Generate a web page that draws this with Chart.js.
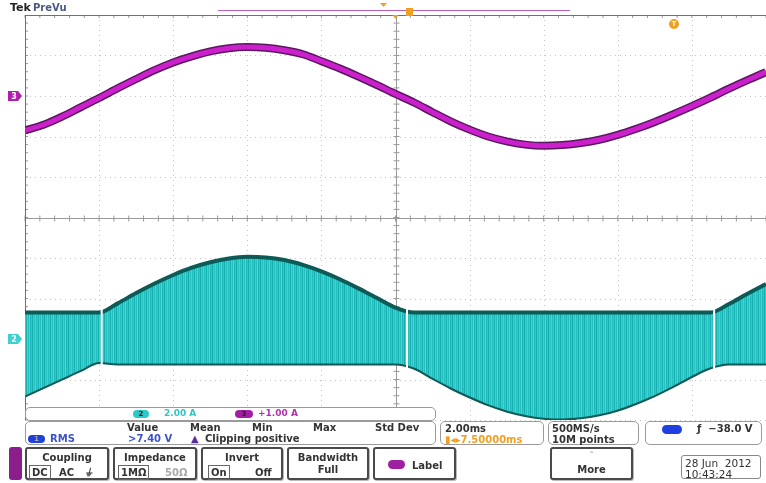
<!DOCTYPE html>
<html>
<head>
<meta charset="utf-8">
<script src="https://cdn.jsdelivr.net/npm/chart.js@4.4.0/dist/chart.umd.min.js"></script>
<style>
  body { margin: 0; background: #fff; }
  #wrap { position: relative; width: 766px; height: 483px; overflow: hidden; font-family: "DejaVu Sans", sans-serif; color: #333; }
  #scope { position: absolute; left: 0; top: 0; }
  .t { position: absolute; white-space: nowrap; font-size: 10px; font-weight: bold; line-height: 1; }
  .box { position: absolute; border: 1px solid #9a9a9a; border-radius: 5px; background: #fff; box-sizing: border-box; }
  .btn { position: absolute; top: 447px; height: 33px; border: 2px solid #4a4a4a; border-radius: 3px; background: #fff; box-sizing: border-box; box-shadow: 1px 1px 0 #bbb; }
  .btn .hd { position: absolute; left: 0; right: 0; top: 3px; text-align: center; font-size: 10px; font-weight: bold; }
  .btn .sub { position: absolute; top: 16px; font-size: 10px; font-weight: bold; }
  .sel { border: 1px solid #666; padding: 1px 2px; }
  .pill { position: absolute; border-radius: 5px; height: 8px; font-size: 7px; font-weight: bold; text-align: center; line-height: 8px; color: #222; }
</style>
</head>
<body>
<div id="wrap">
  <canvas id="scope" width="766" height="483"></canvas>

  <div class="t" style="left:10px;top:2px;font-size:11px;color:#222;">Tek</div>
  <div class="t" style="left:33px;top:3px;color:#4a5a86;">PreVu</div>

  <!-- vertical settings row -->
  <div class="box" style="left:25px;top:407px;width:411px;height:14px;"></div>
  <div class="pill" style="left:133px;top:410px;width:16px;background:#2cc9c9;">2</div>
  <div class="t" style="left:164px;top:409px;font-size:9px;color:#35c4c4;">2.00 A</div>
  <div class="pill" style="left:235px;top:410px;width:18px;background:#a21ea2;">3</div>
  <div class="t" style="left:258px;top:409px;font-size:9px;color:#b032b0;">+1.00 A</div>

  <!-- measurement box -->
  <div class="box" style="left:25px;top:421px;width:411px;height:24px;"></div>
  <div class="t" style="left:127px;top:423px;">Value</div>
  <div class="t" style="left:190px;top:423px;">Mean</div>
  <div class="t" style="left:252px;top:423px;">Min</div>
  <div class="t" style="left:313px;top:423px;">Max</div>
  <div class="t" style="left:375px;top:423px;">Std Dev</div>
  <div class="pill" style="left:28px;top:435px;width:17px;background:#2040d8;color:#9ab;">1</div>
  <div class="t" style="left:50px;top:434px;color:#3c52c8;">RMS</div>
  <div class="t" style="left:128px;top:434px;color:#3c52c8;">&gt;7.40 V</div>
  <div class="t" style="left:191px;top:434px;color:#5a2ca0;">▲</div>
  <div class="t" style="left:205px;top:434px;">Clipping positive</div>

  <!-- timebase / acquisition / trigger -->
  <div class="box" style="left:440px;top:421px;width:104px;height:24px;"></div>
  <div class="t" style="left:445px;top:424px;">2.00ms</div>
  <div class="t" style="left:445px;top:435px;color:#f0a020;">▮◂▸7.50000ms</div>
  <div class="box" style="left:548px;top:421px;width:91px;height:24px;"></div>
  <div class="t" style="left:552px;top:424px;">500MS/s</div>
  <div class="t" style="left:552px;top:435px;">10M points</div>
  <div class="box" style="left:645px;top:421px;width:117px;height:24px;"></div>
  <div class="pill" style="left:662px;top:425px;width:20px;height:9px;background:#1f3fe0;"></div>
  <div class="t" style="left:697px;top:424px;">ƒ&nbsp;&nbsp;−38.0 V</div>

  <!-- bottom button row -->
  <div style="position:absolute;left:9px;top:447px;width:13px;height:33px;background:#8b1e8b;border-radius:3px;"></div>
  <div class="btn" style="left:25px;width:84px;">
    <div class="hd">Coupling</div>
    <div class="sub sel" style="left:2px;">DC</div>
    <div class="sub" style="left:32px;top:18px;">AC</div>
    <div class="sub" style="left:58px;top:18px;font-style:italic;">⏚</div>
  </div>
  <div class="btn" style="left:113px;width:84px;">
    <div class="hd">Impedance</div>
    <div class="sub sel" style="left:3px;">1MΩ</div>
    <div class="sub" style="left:50px;top:18px;color:#aaa;">50Ω</div>
  </div>
  <div class="btn" style="left:201px;width:82px;">
    <div class="hd">Invert</div>
    <div class="sub sel" style="left:5px;">On</div>
    <div class="sub" style="left:52px;top:18px;">Off</div>
  </div>
  <div class="btn" style="left:287px;width:82px;">
    <div class="hd">Bandwidth</div>
    <div class="hd" style="top:15px;">Full</div>
  </div>
  <div class="btn" style="left:373px;width:83px;">
    <div class="pill" style="left:13px;top:11px;width:17px;height:9px;background:#a01ea0;"></div>
    <div class="sub" style="left:37px;top:11px;">Label</div>
  </div>
  <div class="btn" style="left:550px;width:83px;">
    <div class="hd" style="top:1px;color:#bbb;font-size:8px;">⌃</div>
    <div class="hd" style="top:15px;">More</div>
  </div>
  <div style="position:absolute;left:681px;top:455px;width:80px;height:24px;border:1px solid #888;border-radius:3px;box-sizing:border-box;"></div>
  <div class="t" style="left:685px;top:458px;font-size:10.5px;font-weight:normal;">28 Jun&nbsp;&nbsp;2012</div>
  <div class="t" style="left:685px;top:469px;font-size:10.5px;font-weight:normal;">10:43:24</div>
</div>

<script>
// eje horizontal en ms (2 ms/div) y divisiones verticales
const xDivs = [0, 2, 4, 6, 8, 10, 12, 14, 16, 18, 20];
const yDivs = [-5, -4, -3, -2, -1, 0, 1, 2, 3, 4, 5];

const timeMs = [0, 0.5, 1, 1.5, 2, 2.5, 3, 3.5, 4, 4.5, 5, 5.5, 6, 6.5, 7, 7.5, 8, 8.5, 9, 9.5,
  10, 10.5, 11, 11.5, 12, 12.5, 13, 13.5, 14, 14.5, 15, 15.5, 16, 16.5, 17, 17.5, 18, 18.5, 19, 19.5, 20];

// canal 3 (magenta), amperios, 1 A/div
const ch3Amps = [-0.85, -0.71, -0.51, -0.28, -0.05, 0.19, 0.42, 0.64, 0.83, 0.98,
  1.10, 1.18, 1.21, 1.19, 1.13, 1.03, 0.86, 0.68, 0.48, 0.27,
  0.05, -0.16, -0.40, -0.63, -0.83, -1.00, -1.12, -1.20, -1.23, -1.21,
  -1.16, -1.08, -0.96, -0.81, -0.64, -0.45, -0.25, -0.04, 0.18, 0.39, 0.59];

// canal 2 (cian), envolvente superior e inferior, amperios, 2 A/div
const ch2Upper = [1.31, 1.31, 1.31, 1.31, 1.31, 1.76, 2.27, 2.74, 3.16, 3.52,
  3.79, 3.98, 4.06, 4.03, 3.90, 3.66, 3.34, 2.95, 2.50, 2.02,
  1.55, 1.31, 1.31, 1.31, 1.31, 1.31, 1.31, 1.31, 1.31, 1.31,
  1.31, 1.31, 1.31, 1.31, 1.31, 1.31, 1.31, 1.31, 1.73, 2.24, 2.71];
const ch2Lower = [-2.79, -2.37, -1.95, -1.53, -1.13, -1.21, -1.21, -1.21, -1.21, -1.21,
  -1.21, -1.21, -1.21, -1.21, -1.21, -1.21, -1.21, -1.21, -1.21, -1.21,
  -1.21, -1.41, -1.91, -2.40, -2.83, -3.22, -3.53, -3.75, -3.89, -3.93,
  -3.87, -3.72, -3.48, -3.15, -2.76, -2.31, -1.82, -1.40, -1.21, -1.21, -1.21];

// cortes blancos en la senal cian (ms)
const gapTimes = [2.07, 10.31, 18.6];

function points(ys) {
  return timeMs.map((t, i) => ({x: t, y: ys[i]}));
}

// relleno a rayas verticales como la persistencia del osciloscopio
function stripes() {
  const c = document.createElement('canvas');
  c.width = 12;
  c.height = 4;
  const g = c.getContext('2d');
  const cols = ['#22c2c2', '#31caca', '#1ab2b2', '#3bd2d1', '#25bfbf', '#4ad7d6',
    '#1eb8b8', '#2fc8c8', '#18aeae', '#36cecd', '#28c3c3', '#42d3d2'];
  cols.forEach((col, i) => {
    g.fillStyle = col;
    g.fillRect(i, 0, 1, 4);
  });
  return g.createPattern(c, 'repeat');
}

function seg(ctx, x1, y1, x2, y2) {
  ctx.beginPath();
  ctx.moveTo(x1, y1);
  ctx.lineTo(x2, y2);
  ctx.stroke();
}

// reticula tipo Tek
const graticule = {
  id: 'graticule',
  beforeDatasetsDraw(chart) {
    const {ctx, chartArea: a, scales: {x, yDiv}} = chart;
    ctx.save();
    ctx.lineWidth = 1;
    ctx.strokeStyle = '#c4c4c4';
    ctx.setLineDash([1, 4]);
    xDivs.forEach((t) => {
      const px = Math.round(x.getPixelForValue(t)) + 0.5;
      seg(ctx, px, a.top, px, a.bottom);
    });
    yDivs.forEach((d) => {
      const py = Math.round(yDiv.getPixelForValue(d)) + 0.5;
      seg(ctx, a.left, py, a.right, py);
    });
    ctx.setLineDash([]);
    // ejes centrales con marcas menores
    const cx = Math.round(x.getPixelForValue(10)) + 0.5;
    const cy = Math.round(yDiv.getPixelForValue(0)) + 0.5;
    ctx.strokeStyle = '#9a9a9a';
    seg(ctx, cx, a.top, cx, a.bottom);
    seg(ctx, a.left, cy, a.right, cy);
    for (let t = 0; t <= 20; t += 0.4) {
      const px = x.getPixelForValue(t);
      seg(ctx, px, cy - 3, px, cy + 3);
      seg(ctx, px, a.top, px, a.top + 3);
    }
    for (let d = -5; d <= 5; d += 0.2) {
      const py = yDiv.getPixelForValue(d);
      seg(ctx, cx - 3, py, cx + 3, py);
      seg(ctx, a.left, py, a.left + 3, py);
    }
    ctx.strokeStyle = '#707070';
    seg(ctx, a.left + 0.5, a.top, a.left + 0.5, a.bottom);
    seg(ctx, a.left, a.top + 0.5, a.right, a.top + 0.5);
    ctx.restore();
  },
  afterDatasetsDraw(chart) {
    const {ctx, chartArea: a, scales: {x, y2, y3}} = chart;
    ctx.save();
    // cortes en la senal cian
    ctx.strokeStyle = '#ffffff';
    ctx.lineWidth = 2;
    gapTimes.forEach((t) => {
      const px = x.getPixelForValue(t);
      seg(ctx, px, y2.getPixelForValue(1.75), px, y2.getPixelForValue(-1.6));
    });
    // marcadores de canal a la izquierda
    const tag = (y, col, txt) => {
      ctx.fillStyle = col;
      ctx.beginPath();
      ctx.moveTo(8, y - 5);
      ctx.lineTo(18, y - 5);
      ctx.lineTo(22, y);
      ctx.lineTo(18, y + 5);
      ctx.lineTo(8, y + 5);
      ctx.closePath();
      ctx.fill();
      ctx.fillStyle = '#ffffff';
      ctx.font = 'bold 8px "DejaVu Sans"';
      ctx.textAlign = 'center';
      ctx.textBaseline = 'middle';
      ctx.fillText(txt, 14, y + 0.5);
    };
    tag(y3.getPixelForValue(0), '#b01eb0', '3');
    tag(y2.getPixelForValue(0), '#3fd0d0', '2');
    // barra de registro y marcadores de disparo
    ctx.strokeStyle = '#c060c0';
    ctx.lineWidth = 1;
    seg(ctx, 218, 10.5, 570, 10.5);
    ctx.fillStyle = '#f0a020';
    ctx.fillRect(406, 8, 7, 8);
    ctx.beginPath();
    ctx.moveTo(380, 3);
    ctx.lineTo(387, 3);
    ctx.lineTo(383.5, 7);
    ctx.fill();
    const cx = x.getPixelForValue(10);
    ctx.beginPath();
    ctx.moveTo(cx - 3, a.top);
    ctx.lineTo(cx + 3, a.top);
    ctx.lineTo(cx, a.top + 4);
    ctx.fill();
    ctx.beginPath();
    ctx.arc(674, 24, 5, 0, Math.PI * 2);
    ctx.fill();
    ctx.fillStyle = '#ffffff';
    ctx.font = 'bold 7px "DejaVu Sans"';
    ctx.fillText('T', 674, 24.5);
    ctx.restore();
  },
};

// el dataset 0 se pinta encima, por eso el trazo magenta va primero
const data = {
  datasets: [
    {
      label: 'Ch3',
      data: points(ch3Amps),
      yAxisID: 'y3',
      borderColor: '#cc20cc',
      borderWidth: 5,
      pointRadius: 0,
      cubicInterpolationMode: 'monotone',
      fill: false,
    },
    {
      label: 'Ch3 borde',
      data: points(ch3Amps),
      yAxisID: 'y3',
      borderColor: '#5a1860',
      borderWidth: 8,
      pointRadius: 0,
      cubicInterpolationMode: 'monotone',
      fill: false,
    },
    {
      label: 'Ch2 sup',
      data: points(ch2Upper),
      yAxisID: 'y2',
      borderColor: '#0e5a56',
      borderWidth: 4,
      pointRadius: 0,
      cubicInterpolationMode: 'monotone',
      backgroundColor: stripes(),
      fill: '+1',
    },
    {
      label: 'Ch2 inf',
      data: points(ch2Lower),
      yAxisID: 'y2',
      borderColor: '#0e5a56',
      borderWidth: 4,
      pointRadius: 0,
      cubicInterpolationMode: 'monotone',
      fill: false,
    },
  ],
};

const config = {
  type: 'line',
  data: data,
  options: {
    responsive: false,
    animation: false,
    devicePixelRatio: 1,
    layout: {
      autoPadding: false,
      padding: {left: 25, top: 15, right: 0, bottom: 63},
    },
    plugins: {
      legend: {display: false},
      tooltip: {enabled: false},
    },
    scales: {
      x: {type: 'linear', min: 0, max: 20, display: false},
      yDiv: {type: 'linear', min: -5, max: 5, display: false},
      y3: {type: 'linear', min: -8, max: 2, display: false},
      y2: {type: 'linear', min: -4, max: 16, display: false},
    },
  },
  plugins: [graticule],
};

new Chart(
    document.getElementById('scope'),
    config,
);
</script>
</body>
</html>
